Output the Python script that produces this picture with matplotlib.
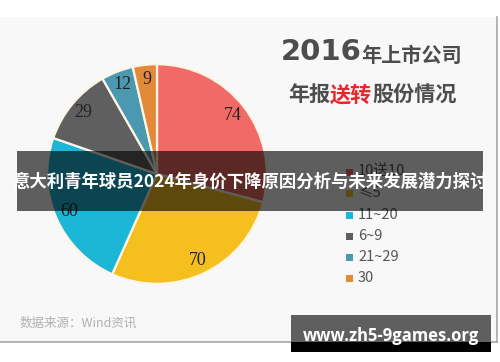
import matplotlib
matplotlib.use("Agg")
import matplotlib.pyplot as plt
from matplotlib.patches import Rectangle

plt.rcParams['font.family'] = ['Noto Sans CJK SC', 'DejaVu Sans']

# ---- data ----
values = [74, 70, 60, 29, 12, 9]
legend_labels = ['10送10', '≤5', '11~20', '6~9', '21~29', '30']
colors = ['#f26a66', '#f5c01e', '#1cb6d6', '#5f5f5f', '#4b99b1', '#e28a3a']
title_line1_big = '2016'
title_line1_small = '年上市公司'
title_line2 = ['年报', '送转', '股份情况']
source_text = '数据来源：Wind资讯'
banner_text = '意大利青年球员2024年身价下降原因分析与未来发展潜力探讨'
watermark_text = 'www.zh5-9games.org'

W, H = 500, 362
fig = plt.figure(figsize=(W / 100, H / 100), dpi=100)
fig.patch.set_facecolor('white')

# panel background and border
bg = fig.add_axes([0, 0, 1, 1], zorder=0)
bg.set_xlim(0, W)
bg.set_ylim(H, 0)
bg.axis('off')
bg.add_patch(Rectangle((0, 17), 497, 325, facecolor='#f8f8f8', edgecolor='none', zorder=0))
bg.plot([497, 497], [17, 342], color='#a8a8a8', lw=1.2, zorder=1)
bg.plot([0, 497], [342, 342], color='#a8a8a8', lw=1.2, zorder=1)

# pie
cx, cy, r = 157, 174, 112
ax = fig.add_axes([(cx - r) / W, 1 - (cy + r) / H, 2 * r / W, 2 * r / H], zorder=1)
ax.pie(values, colors=colors, startangle=90, counterclock=False,
       labels=[str(v) for v in values], labeldistance=0.87,
       textprops=dict(family='Liberation Serif', fontsize=13, color='#222222'),
       wedgeprops=dict(edgecolor='#fdf6e6', linewidth=1.6))
for t in ax.texts:
    t.set_ha('center')
    t.set_va('center')
ax.set_xlim(-1.02, 1.02)
ax.set_ylim(-1.02, 1.02)
ax.axis('off')

# title
bg.text(281, 52, title_line1_big, fontsize=21, fontweight='bold',
        color='#4d4d4d', ha='left', va='center', family='DejaVu Sans')
bg.text(361, 55, title_line1_small, fontsize=14.5, fontweight='bold',
        color='#4d4d4d', ha='left', va='center')
fig.canvas.draw()
renderer = fig.canvas.get_renderer()
x_cursor = 288
for part, col in zip(title_line2, ['#4d4d4d', '#e8262a', '#4d4d4d']):
    t = bg.text(x_cursor, 95, part, fontsize=15.2, fontweight='bold',
                color=col, ha='left', va='center')
    bb = t.get_window_extent(renderer)
    x_cursor += bb.width

# legend
ys = [172, 193, 215, 236, 257, 278]
for lab, col, yy in zip(legend_labels, colors, ys):
    bg.add_patch(Rectangle((346, yy - 3.5), 7, 7, facecolor=col, edgecolor='none', zorder=2))
    bg.text(358, yy, lab, fontsize=10.5, color='#555555', ha='left', va='center', zorder=2)

# source
bg.text(20, 323, source_text, fontsize=9, color='#b0b0b0', ha='left', va='center', zorder=2)

# overlay axes for banner and watermark
ov = fig.add_axes([0, 0, 1, 1], zorder=5)
ov.set_xlim(0, W)
ov.set_ylim(H, 0)
ov.axis('off')
ov.patch.set_alpha(0)

ov.add_patch(Rectangle((17, 151), 466, 60, facecolor='black', alpha=0.62,
                       edgecolor='none', zorder=10))
ov.text(250, 182, banner_text, fontsize=12.5, fontweight='bold', color='white',
        ha='center', va='center', zorder=11)

ov.add_patch(Rectangle((291, 315), 200, 27, facecolor='#5f5f5f', edgecolor='none', zorder=10))
ov.add_patch(Rectangle((291, 342), 200, 10, facecolor='black', edgecolor='none', zorder=10))
ov.text(391, 336, watermark_text, fontsize=12, fontweight='bold', color='white',
        ha='center', va='center', zorder=11, family='Open Sans')

fig.savefig('out.png', dpi=100)
